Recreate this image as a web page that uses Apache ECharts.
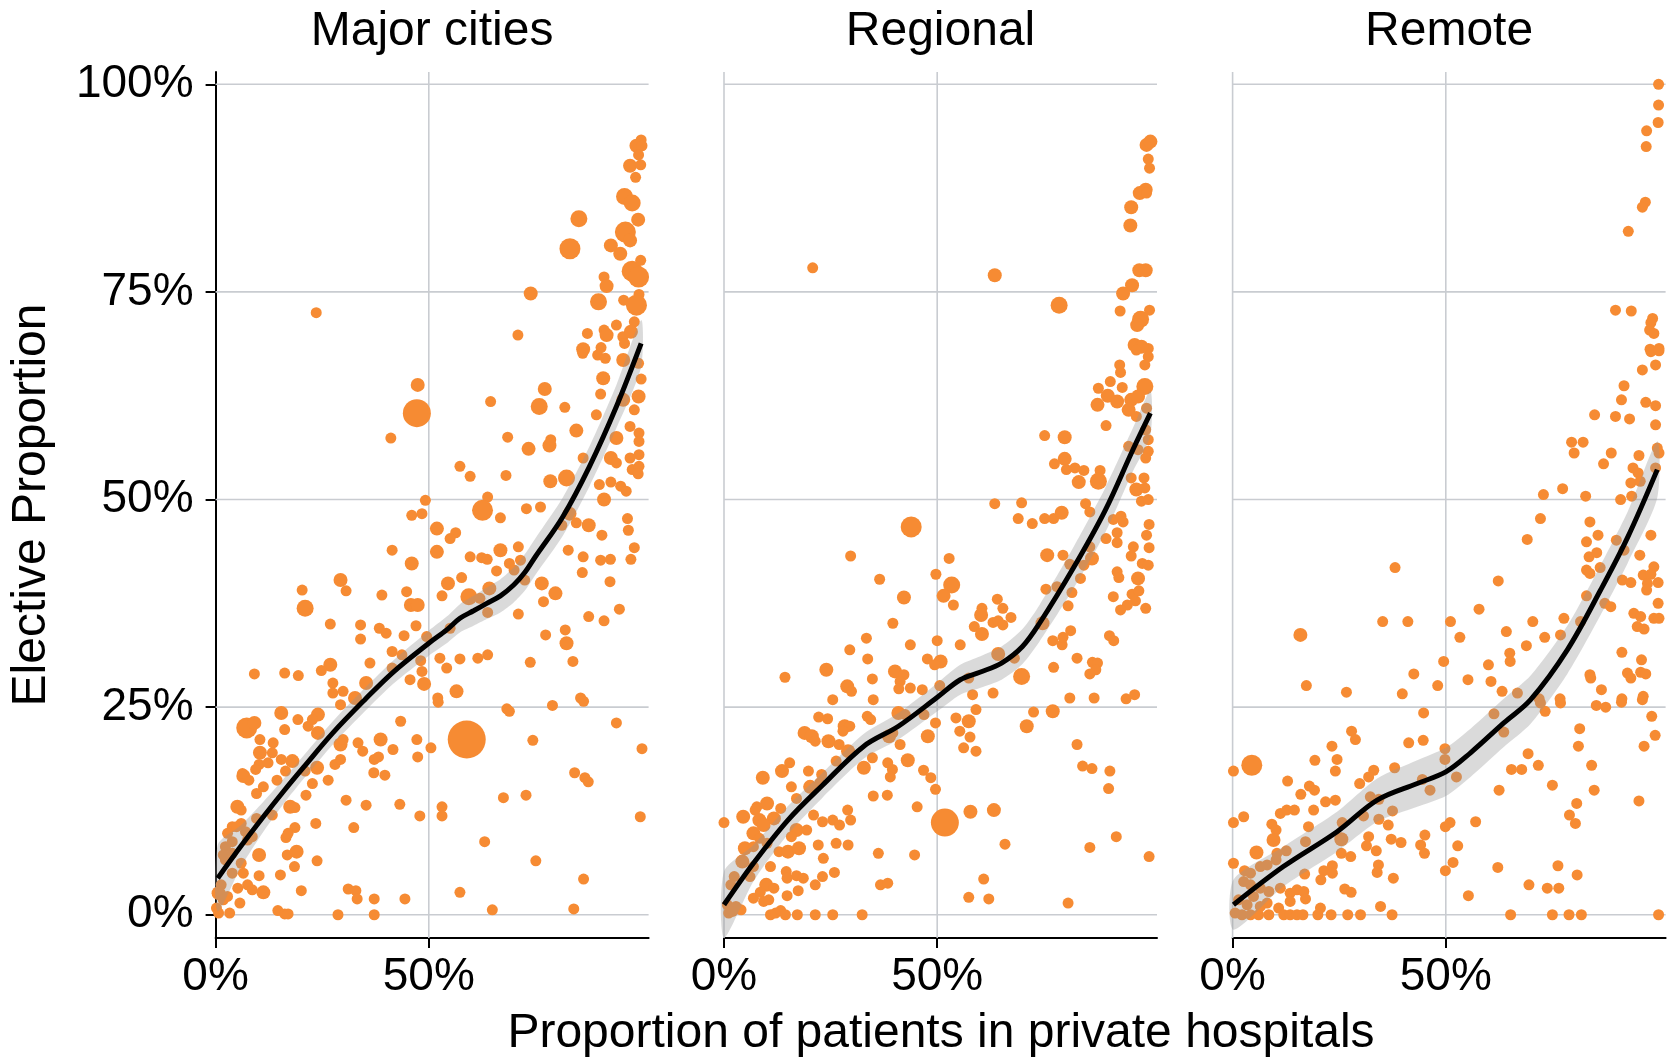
<!DOCTYPE html>
<html>
<head>
<meta charset="utf-8">
<title>Elective proportion vs private hospital share</title>
<script src="https://cdn.jsdelivr.net/npm/echarts@6/dist/echarts.min.js"></script>
<style>
  html, body { margin: 0; padding: 0; background: #fff; }
  #chart { width: 1674px; height: 1059px; }
</style>
</head>
<body>
<div id="chart"></div>
<script>
// Facet titles
const panelNames = ['Major cities', 'Regional', 'Remote'];

// Axis ticks (proportions)
const xTicks = [0, 0.5];
const yTicks = [0, 0.25, 0.5, 0.75, 1];

// Points: [private share, elective proportion, size class]
const majorPts = [
  [.236,.725,1],[.739,.748,2],[.709,.698,1],[.852,.838,3],[.831,.802,4],[.898,.738,3],[.927,.806,2],[.949,.796,2],[.959,.865,3],[.977,.857,3],
  [.961,.822,4],[.972,.812,2],[.991,.837,2],[.972,.902,2],[.997,.903,1],[.985,.888,1],[.998,.933,1],[.987,.926,2],[1.0,.926,1],[.992,.915,1],
  [.977,.775,4],[.992,.768,4],[.997,.788,1],[.911,.768,1],[.917,.757,2],[.993,.747,1],[.957,.740,1],[.987,.734,4],[.982,.714,1],[.872,.700,1],
  [.911,.704,1],[.940,.710,1],[.917,.698,2],[.955,.696,1],[.974,.702,2],[.959,.688,1],[.862,.681,2],[.904,.683,1],
  [.474,.638,2],[.472,.604,5],[.411,.574,1],[.645,.618,1],[.772,.633,2],[.759,.612,3],[.819,.611,1],[.893,.602,1],[.846,.583,2],[.909,.646,2],
  [.903,.627,1],[.861,.676,1],[.896,.674,1],[.914,.670,1],[.956,.668,2],[.992,.664,1],[.998,.645,1],[.992,.624,2],[.956,.620,2],[.982,.608,1],
  [.972,.588,1],[.993,.580,1],[.940,.574,2],[.993,.570,1],[.685,.575,1],[.734,.561,2],[.783,.565,2],[.786,.572,1],[.862,.550,1],[.927,.550,2],
  [.940,.544,1],[.972,.550,1],[.993,.554,1],[.977,.536,1],[.993,.540,1],[.991,.531,1],[.573,.540,1],[.597,.528,1],[.681,.529,1],[.785,.522,2],
  [.823,.526,3],[.900,.518,1],[.927,.521,1],[.950,.516,1],[.963,.510,1],[.492,.499,1],[.460,.481,1],[.484,.483,1],[.638,.503,1],[.626,.487,4],
  [.668,.478,1],[.729,.489,1],[.762,.491,1],[.911,.500,2],[.830,.483,2],[.812,.469,1],[.846,.472,1],[.875,.469,2],[.966,.477,1],[.968,.463,1],
  [.906,.457,1],[.982,.442,1],[.974,.428,1],[.519,.465,2],[.563,.460,1],[.550,.453,1],[.519,.437,2],[.414,.439,1],[.460,.423,2],[.597,.431,1],
  [.624,.430,1],[.637,.428,1],[.668,.439,2],[.710,.443,1],[.827,.439,1],[.862,.431,1],[.903,.427,1],[.926,.428,1],[.659,.414,1],[.689,.423,1],
  [.715,.427,1],[.700,.415,1],[.725,.403,1],[.860,.412,1],[.925,.401,1],[.577,.406,1],[.545,.399,2],[.531,.384,1],[.293,.403,2],[.306,.390,1],
  [.203,.391,1],[.210,.369,3],[.390,.385,1],[.448,.389,1],[.458,.373,2],[.474,.373,2],[.594,.383,3],[.620,.381,1],[.642,.393,2],[.765,.399,2],
  [.797,.387,2],[.769,.377,1],[.710,.362,1],[.638,.364,1],[.875,.359,1],[.911,.354,1],[.947,.368,1],[.269,.350,1],[.340,.349,1],[.384,.345,1],
  [.400,.339,1],[.340,.332,1],[.470,.348,1],[.442,.336,1],[.495,.335,1],[.550,.345,1],[.774,.337,1],[.820,.343,1],[.823,.327,2],[.414,.317,1],
  [.437,.313,1],[.481,.306,1],[.526,.309,1],[.573,.308,1],[.615,.309,1],[.638,.313,1],[.738,.304,1],[.838,.305,1],[.269,.301,2],[.248,.294,1],
  [.362,.303,1],[.091,.290,1],[.162,.291,1],[.194,.288,1],[.414,.297,1],[.484,.293,1],[.542,.297,1],[.275,.279,1],[.353,.279,2],[.456,.283,1],
  [.489,.278,2],[.565,.269,2],[.275,.267,1],[.299,.269,1],[.327,.261,2],[.521,.261,1],[.856,.261,1],
  [.154,.243,2],[.073,.225,4],[.091,.231,2],[.104,.211,1],[.135,.207,1],[.162,.223,1],[.193,.235,1],[.217,.227,1],[.240,.241,2],[.227,.235,1],
  [.240,.219,2],[.293,.253,1],[.293,.205,2],[.299,.211,1],[.334,.207,1],[.345,.197,1],[.387,.211,2],[.416,.199,1],[.434,.233,1],[.472,.211,1],
  [.505,.201,1],[.474,.190,1],[.589,.211,6],[.522,.256,1],[.683,.248,1],[.689,.245,1],[.790,.252,1],[.863,.257,1],[.940,.231,1],[.744,.210,1],
  [1.0,.200,1],[.104,.195,2],[.133,.195,1],[.102,.181,1],[.123,.183,1],[.154,.187,1],[.180,.185,2],[.094,.175,1],[.065,.167,2],[.078,.162,1],
  [.063,.170,1],[.096,.146,1],[.112,.154,1],[.144,.162,1],[.164,.173,1],[.238,.177,2],[.210,.173,1],[.227,.158,1],[.212,.144,1],[.264,.162,1],
  [.280,.181,1],[.293,.187,1],[.371,.171,1],[.397,.168,1],[.372,.187,1],[.382,.190,1],[.051,.130,2],[.060,.126,1],[.175,.130,2],[.186,.129,1],
  [.306,.138,1],[.353,.132,1],[.432,.133,1],[.531,.130,1],[.531,.119,1],[.479,.119,1],[.675,.141,1],[.728,.144,1],[.842,.171,1],[.866,.165,1],
  [.874,.160,1],[.996,.118,1],[.039,.106,1],[.060,.110,1],[.133,.120,1],[.096,.116,1],[.235,.110,1],[.324,.105,1],[.186,.105,1],[.165,.093,1],
  [.170,.098,1],[.023,.082,1],[.039,.088,1],[.075,.090,1],[.018,.072,1],[.102,.072,2],[.168,.072,1],[.190,.076,2],[.185,.058,1],[.238,.065,1],
  [.631,.088,1],[.751,.065,1],[.863,.043,1],[.039,.050,1],[.065,.050,1],[.102,.047,1],[.152,.048,1],[.013,.036,1],[.052,.032,1],[.075,.036,1],
  [.086,.030,1],[.112,.027,2],[.201,.029,1],[.311,.031,1],[.329,.029,1],[.332,.019,1],[.372,.019,1],[.444,.019,1],[.573,.027,1],[.007,.026,2],
  [.018,.018,1],[.028,.022,1],[.057,.014,1],[.002,.008,1],[.033,.002,1],[.007,.002,1],[.146,.005,1],[.162,.001,1],[.170,.001,1],[.287,0,1],
  [.372,0,1],[.649,.006,1],[.840,.007,1],[.028,.098,1],[.049,.106,1],[.070,.100,1],[.086,.094,1],[.039,.074,1],[.023,.066,1],[.060,.062,1]
];

const regionalPts = [
  [.208,.779,1],[.635,.770,2],[.786,.734,3],[.991,.927,2],[1.0,.931,2],[.995,.910,1],[.998,.899,1],[.989,.873,2],[.975,.869,2],[.991,.869,1],
  [.955,.852,2],[.953,.830,2],[.974,.776,2],[.989,.776,2],[.957,.758,2],[.936,.748,2],[.929,.727,1],[.998,.728,1],[.977,.717,3],[.969,.710,2],
  [.963,.686,2],[.995,.682,1],[.979,.684,2],
  [.995,.672,1],[.967,.680,1],[.987,.662,1],[.928,.662,1],[.930,.653,1],[.906,.642,1],[.934,.635,1],[.987,.636,3],[.878,.634,1],[.900,.625,2],
  [.922,.618,2],[.955,.620,2],[.971,.624,2],[.876,.614,2],[.949,.608,2],[.967,.600,1],[.991,.610,1],[.896,.589,1],[.989,.584,1],[.752,.577,1],
  [.799,.575,2],[.949,.564,1],[.995,.572,1],[.971,.560,1],[.995,.558,1],[.989,.550,1],[.799,.549,2],[.775,.543,1],[.803,.536,1],[.823,.538,1],
  [.844,.535,1],[.882,.535,1],[.878,.522,3],[.832,.521,2],[.955,.526,1],[.985,.526,1],[.967,.512,2],[.987,.514,1],[.979,.498,1],[.995,.500,1],
  [.635,.495,1],[.698,.496,1],[.848,.495,1],[.858,.485,1],[.690,.477,1],[.723,.471,1],[.752,.477,1],[.773,.477,1],[.792,.484,2],[.913,.476,1],
  [.931,.480,1],[.936,.473,1],[.997,.470,1],[.991,.457,1],[.439,.467,4],[.896,.453,1],[.922,.460,1],[.922,.448,1],[.297,.432,1],[.528,.429,1],
  [.758,.433,2],[.795,.433,1],[.960,.443,1],[.955,.432,1],[.997,.442,1],[.858,.443,1],[.863,.429,2],[.811,.422,1],[.844,.421,1],[.981,.423,1],
  [.995,.421,1],[.365,.404,1],[.497,.410,1],[.534,.397,3],[.922,.413,1],[.926,.406,1],[.971,.405,2],[.836,.405,1],[.422,.382,2],[.515,.384,2],
  [.538,.373,1],[.755,.392,1],[.781,.395,1],[.816,.388,1],[.913,.383,1],[.957,.386,1],[.973,.390,1],[.965,.378,1],[.946,.373,1],[.930,.367,1],
  [.989,.369,1],[.807,.372,1],[.641,.380,1],[.654,.369,1],[.605,.369,1],[.603,.361,2],[.673,.358,1],[.396,.351,1],[.631,.352,1],[.643,.354,1],
  [.654,.349,1],[.587,.347,1],[.605,.338,2],[.747,.351,2],[.813,.342,1],[.334,.333,1],[.295,.319,1],[.437,.325,1],[.500,.330,1],[.554,.325,1],
  [.771,.330,1],[.793,.325,1],[.795,.334,1],[.904,.336,1],[.914,.330,1],[.337,.308,1],[.477,.308,1],[.508,.305,2],[.494,.301,1],[.643,.314,2],
  [.681,.309,1],[.828,.309,1],[.864,.304,1],[.876,.303,1],[.872,.295,1],[.858,.290,1],[.240,.295,2],[.143,.286,1],[.401,.293,2],[.422,.289,1],
  [.348,.284,1],[.413,.281,1],[.698,.287,3],[.773,.298,1],[.289,.275,2],[.299,.269,1],[.410,.272,1],[.437,.273,1],[.465,.271,1],[.506,.276,1],
  [.574,.285,1],[.583,.265,1],[.631,.267,1],[.963,.265,1],[.811,.261,1],[.868,.261,1],[.943,.260,1],[.255,.259,1],[.350,.259,1],
  [.222,.238,1],[.243,.236,1],[.336,.239,1],[.344,.235,1],[.409,.243,2],[.425,.241,1],[.469,.241,1],[.496,.231,1],[.544,.237,1],[.574,.233,2],
  [.591,.247,1],[.726,.244,1],[.771,.245,2],[.710,.227,2],[.283,.227,2],[.295,.227,1],[.189,.219,2],[.206,.215,2],[.214,.209,1],[.245,.209,2],
  [.279,.221,1],[.270,.205,1],[.387,.215,2],[.396,.219,1],[.413,.205,1],[.478,.215,2],[.553,.221,1],[.577,.214,1],[.562,.201,1],[.591,.197,1],
  [.828,.205,1],[.291,.197,2],[.263,.185,1],[.154,.183,1],[.136,.173,2],[.091,.165,2],[.198,.173,1],[.229,.169,1],[.328,.177,2],[.348,.189,1],
  [.384,.183,1],[.395,.175,1],[.431,.186,2],[.468,.174,1],[.485,.165,1],[.390,.166,1],[.841,.179,1],[.863,.176,1],[.905,.173,1],[.158,.154,1],
  [.202,.154,2],[.496,.151,1],[.902,.152,1],[.170,.140,1],[.225,.159,1],[.077,.130,1],[.101,.134,2],[.073,.126,1],[.133,.128,1],[.045,.118,2],
  [.083,.114,2],[.117,.116,2],[.210,.120,1],[.231,.112,1],[.255,.114,1],[.271,.108,1],[.290,.126,1],[.297,.114,1],[.350,.143,1],[.383,.144,1],
  [.453,.130,1],[.578,.124,2],[.633,.126,2],[.518,.111,5],[0,.111,1],[.069,.098,2],[.093,.108,2],[.170,.102,2],[.194,.102,1],[.158,.094,1],
  [.049,.080,2],[.069,.082,1],[.083,.092,1],[.101,.086,1],[.129,.076,1],[.150,.076,2],[.176,.080,2],[.221,.084,1],[.263,.086,1],[.291,.084,1],
  [.233,.068,1],[.362,.074,1],[.447,.072,1],[.659,.085,1],[.858,.081,1],[.920,.094,1],[.997,.070,1],[.043,.064,2],[.069,.058,1],[.109,.058,1],
  [.146,.052,1],[.148,.044,1],[.170,.047,1],[.186,.044,1],[.231,.046,1],[.259,.051,1],[.024,.046,1],[.016,.036,1],[.061,.046,1],[.099,.036,2],
  [.117,.032,1],[.214,.036,1],[.367,.036,1],[.384,.038,1],[.609,.043,1],[.069,.020,1],[.085,.027,1],[.093,.016,1],[.105,.018,1],[.148,.023,1],
  [.174,.029,1],[.574,.021,1],[.621,.019,1],[.807,.014,1],[.008,.012,1],[.028,.010,1],[.040,.006,1],[.011,.002,1],[.020,.004,1],[.109,0,1],
  [.121,.002,1],[.133,.005,1],[.144,0,1],[.172,0,1],[.214,0,1],[.255,0,1],[.324,0,1]
];

const remotePts = [
  [.999,1.0,1],[.999,.975,1],[.998,.954,1],[.971,.944,1],[.970,.925,1],[.968,.858,1],[.961,.852,1],[.928,.823,1],[.898,.728,1],[.935,.727,1],
  [.985,.718,1],[.981,.713,1],[.978,.704,1],[.988,.700,1],[.979,.681,1],[1.0,.682,1],
  [.981,.678,1],[1.0,.679,1],[.961,.656,1],[.992,.662,1],[.918,.637,1],[.912,.620,1],[.969,.617,1],[.992,.613,1],[.849,.602,1],[.898,.600,1],
  [.931,.597,1],[.992,.590,1],[.795,.569,1],[.822,.569,1],[.801,.556,1],[.996,.562,1],[1.0,.556,1],[.888,.556,1],[.953,.553,1],[.870,.543,1],
  [.939,.538,1],[.951,.532,1],[.992,.538,1],[.729,.506,1],[.774,.513,1],[.828,.504,1],[.910,.500,1],[.936,.504,1],[.934,.520,1],[.956,.522,1],
  [.722,.477,1],[.838,.473,1],[.857,.457,1],[.830,.449,1],[.900,.451,1],[.918,.439,1],[.981,.457,1],[.691,.452,1],[.836,.431,1],[.854,.436,1],
  [.955,.433,1],[.830,.415,1],[.838,.411,1],[.862,.418,1],[.988,.419,1],[.963,.409,1],[.981,.410,1],[.623,.402,1],[.914,.403,1],[.934,.400,1],
  [.998,.400,1],[.973,.399,1],[.971,.391,1],[.830,.384,1],[.381,.418,1],[.578,.368,1],[.873,.375,1],[.887,.371,1],[.998,.375,1],[.352,.353,1],
  [.411,.353,1],[.511,.353,1],[.704,.353,1],[.777,.357,1],[.816,.353,1],[.941,.363,1],[.957,.359,1],[.988,.357,1],[1.0,.357,1],[.159,.337,2],
  [.533,.334,1],[.642,.341,1],[.732,.334,1],[.769,.337,1],[.949,.347,1],[.965,.344,1],[.913,.316,1],[.959,.307,1],[.650,.315,1],[.689,.324,1],
  [.495,.305,1],[.600,.301,1],[.651,.305,1],[.838,.289,1],[.840,.285,1],[.926,.291,1],[.934,.285,1],[.957,.292,1],[.969,.290,1],[.425,.290,1],
  [.552,.283,1],[.606,.281,1],[.481,.276,1],[.173,.276,1],[.267,.268,1],[.398,.266,1],[.632,.269,1],[.668,.267,1],[.865,.271,1],[.913,.260,1],
  [.963,.263,1],[.768,.260,1],[.719,.260,1],
  [.853,.252,1],[.875,.250,1],[.912,.256,1],[.961,.259,1],[.769,.255,1],[.733,.245,1],[.722,.255,1],[.983,.239,1],[.448,.243,1],[.613,.242,1],
  [.814,.224,1],[.991,.216,1],[.636,.220,1],[.279,.221,1],[.288,.211,1],[.413,.207,1],[.447,.210,1],[.811,.203,1],[.965,.203,1],[.233,.203,1],
  [.498,.200,1],[.693,.194,1],[.193,.186,1],[.245,.187,1],[.498,.187,1],[.717,.180,1],[.842,.180,1],[.045,.180,4],[.002,.173,1],[.241,.173,1],
  [.380,.177,1],[.331,.174,1],[.654,.175,1],[.678,.175,1],[.319,.166,1],[.298,.158,1],[.525,.166,1],[.445,.163,1],[.463,.150,1],[.625,.150,1],
  [.750,.156,1],[.848,.150,1],[.953,.137,1],[.129,.161,1],[.180,.155,1],[.192,.150,1],[.160,.145,1],[.218,.136,1],[.241,.138,1],[.323,.142,1],
  [.343,.139,1],[.807,.134,1],[.026,.118,1],[.002,.111,1],[.112,.122,1],[.127,.126,1],[.145,.126,1],[.190,.126,1],[.092,.109,1],[.102,.102,1],
  [.178,.106,1],[.257,.111,1],[.307,.119,1],[.343,.115,1],[.365,.108,1],[.375,.125,1],[.570,.112,1],[.499,.106,1],[.510,.111,1],[.790,.120,1],
  [.804,.110,1],[.171,.088,1],[.255,.091,2],[.319,.094,1],[.372,.091,1],[.395,.087,1],[.451,.096,1],[.441,.084,1],[.450,.074,1],[.528,.083,1],
  [.096,.090,2],[.104,.074,1],[.056,.075,2],[.126,.077,1],[.255,.074,1],[.277,.070,1],[.314,.083,1],[.337,.077,1],[.002,.062,1],[.028,.053,1],
  [.042,.050,1],[.065,.058,1],[.081,.060,1],[.102,.066,1],[.169,.049,1],[.214,.053,1],[.234,.059,1],[.234,.050,1],[.207,.042,1],[.342,.060,1],
  [.339,.051,1],[.377,.044,1],[.499,.053,1],[.517,.063,1],[.622,.057,1],[.763,.059,1],[.808,.048,1],[.695,.036,1],[.738,.032,1],[.765,.032,1],
  [.553,.023,1],[.263,.031,1],[.278,.027,1],[.347,.010,1],[.206,.008,1],[.026,.040,1],[.042,.036,1],[.065,.032,1],[.085,.028,1],[.112,.032,1],
  [.135,.026,1],[.151,.030,1],[.167,.028,1],[.171,.019,1],[.135,.016,1],[.108,.008,1],[.014,.018,1],[.034,.012,1],[.049,.022,1],[.065,.010,1],
  [.081,.014,1],[.006,.002,1],[.022,0,1],[.042,0,1],[.061,0,1],[.085,0,1],[.120,0,1],[.135,0,1],[.151,0,1],[.165,0,1],
  [.200,0,1],[.231,0,1],[.270,0,1],[.300,0,1],[.374,0,1],[.652,0,1],[.750,0,1],[.789,0,1],[.818,0,1],[.999,0,1]
];

// Smoothed fits: [x, fitted value, half-width of confidence band]
const majorFit = [
  [0.005,0.044,0.040],[0.06,0.083,0.025],[0.112,0.118,0.018],[0.16,0.149,0.015],[0.207,0.178,0.014],[0.275,0.219,0.014],
  [0.35,0.259,0.014],[0.416,0.292,0.014],[0.5,0.327,0.015],[0.542,0.343,0.016],[0.573,0.357,0.017],[0.605,0.366,0.018],
  [0.636,0.375,0.019],[0.668,0.384,0.020],[0.699,0.397,0.021],[0.725,0.412,0.022],[0.751,0.432,0.022],[0.814,0.479,0.023],
  [0.877,0.540,0.024],[0.94,0.612,0.026],[0.998,0.688,0.028]
];
const regionalFit = [
  [0.0,0.012,0.040],[0.069,0.062,0.022],[0.150,0.114,0.017],[0.231,0.156,0.015],[0.328,0.203,0.015],[0.409,0.227,0.016],
  [0.498,0.261,0.017],[0.554,0.283,0.018],[0.60,0.292,0.019],[0.651,0.303,0.020],[0.70,0.323,0.021],[0.740,0.351,0.022],
  [0.821,0.419,0.025],[0.894,0.487,0.027],[0.959,0.560,0.026],[1.0,0.604,0.027]
];
const remoteFit = [
  [0.002,0.012,0.030],[0.119,0.058,0.024],[0.245,0.100,0.024],[0.339,0.138,0.026],[0.433,0.158,0.028],[0.5,0.172,0.029],
  [0.558,0.195,0.029],[0.636,0.231,0.029],[0.699,0.259,0.029],[0.785,0.319,0.029],[0.863,0.391,0.030],[0.927,0.455,0.031],
  [0.996,0.536,0.034]
];

const panelPts = [majorPts, regionalPts, remotePts];
const panelFits = [majorFit, regionalFit, remoteFit];

const FONT = '"Liberation Sans", Arial, Helvetica, sans-serif';
const ORANGE = '#f68b33';
const GRID_GREY = '#c9ccd1';
const SIZES = [0, 11, 14, 17, 21, 28, 38];

const X_MAX = 1.0155, Y_MIN = -0.028, Y_MAX = 1.0148;
const PANEL_LEFT = [215.6, 724, 1232.6];
const PANEL_W = 433, PANEL_TOP = 72, PANEL_H = 866;

const pct = v => Math.round(v * 100) + '%';

const chart = echarts.init(document.getElementById('chart'), null, { renderer: 'canvas' });

const grids = [], xAxes = [], yAxes = [], series = [], graphics = [];

panelNames.forEach((name, i) => {
  grids.push({ left: PANEL_LEFT[i], top: PANEL_TOP, width: PANEL_W, height: PANEL_H,
               containLabel: false, outerBoundsMode: 'none' });
  xAxes.push({
    gridIndex: i, type: 'value', min: 0, max: X_MAX,
    axisLine: { show: true, onZero: false, lineStyle: { color: '#000', width: 2 } },
    axisTick: { show: true, customValues: xTicks, length: 10, lineStyle: { color: '#000', width: 2 } },
    axisLabel: { customValues: xTicks, formatter: pct, color: '#000', fontSize: 46, fontFamily: FONT, margin: 16 },
    splitLine: { show: false }
  });
  const showY = i === 0;
  yAxes.push({
    gridIndex: i, type: 'value', min: Y_MIN, max: Y_MAX,
    axisLine: { show: showY, onZero: false, lineStyle: { color: '#000', width: 2 } },
    axisTick: { show: showY, customValues: yTicks, length: 10, lineStyle: { color: '#000', width: 2 } },
    axisLabel: { show: showY, customValues: yTicks, formatter: pct, color: '#000', fontSize: 46, fontFamily: FONT, margin: 22 },
    splitLine: { show: false }
  });

  // grid lines, drawn through the axis scales
  const gridData = [];
  xTicks.forEach(v => { if (!(showY && v === 0)) gridData.push([v, 0]); });
  yTicks.forEach(v => gridData.push([v, 1]));
  series.push({
    type: 'custom', xAxisIndex: i, yAxisIndex: i, z: 1, silent: true,
    data: gridData,
    renderItem: (params, api) => {
      const v = api.value(0), vertical = api.value(1) === 0;
      const cs = params.coordSys;
      if (vertical) {
        const p = api.coord([v, 0]);
        return { type: 'line', shape: { x1: p[0], y1: cs.y, x2: p[0], y2: cs.y + cs.height },
                 style: { stroke: GRID_GREY, lineWidth: 1.6 } };
      }
      const p = api.coord([0, v]);
      return { type: 'line', shape: { x1: cs.x, y1: p[1], x2: cs.x + cs.width, y2: p[1] },
               style: { stroke: GRID_GREY, lineWidth: 1.6 } };
    }
  });

  // points
  series.push({
    type: 'scatter', xAxisIndex: i, yAxisIndex: i, z: 2,
    data: panelPts[i],
    symbolSize: d => SIZES[d[2]],
    itemStyle: { color: ORANGE, opacity: 1 },
    emphasis: { disabled: true }
  });

  // confidence band
  const fit = panelFits[i];
  series.push({
    type: 'custom', xAxisIndex: i, yAxisIndex: i, z: 3, silent: true,
    data: [[fit[0][0], fit[0][1]]],
    renderItem: (params, api) => {
      const upper = fit.map(f => api.coord([f[0], f[1] + f[2]]));
      const lower = fit.map(f => api.coord([f[0], f[1] - f[2]])).reverse();
      return { type: 'polygon', shape: { points: upper.concat(lower), smooth: 0.25 },
               style: { fill: 'rgba(150,150,150,0.35)' } };
    }
  });

  // fitted curve
  series.push({
    type: 'line', xAxisIndex: i, yAxisIndex: i, z: 4, silent: true,
    data: fit.map(f => [f[0], f[1]]),
    smooth: 0.35, showSymbol: false, symbol: 'none',
    lineStyle: { color: '#000', width: 5 }
  });

  graphics.push({
    type: 'text', x: PANEL_LEFT[i] + PANEL_W / 2, y: 31.5,
    style: { text: name, fontSize: 48, fontFamily: FONT, fill: '#000', align: 'center', verticalAlign: 'middle' }
  });
});

graphics.push({
  type: 'text', x: 32, y: 505, rotation: Math.PI / 2,
  style: { text: 'Elective Proportion', fontSize: 48, fontFamily: FONT, fill: '#000', align: 'center', verticalAlign: 'middle' }
});
graphics.push({
  type: 'text', x: 941, y: 1034,
  style: { text: 'Proportion of patients in private hospitals', fontSize: 48, fontFamily: FONT, fill: '#000', align: 'center', verticalAlign: 'middle' }
});

chart.setOption({
  animation: false,
  backgroundColor: '#fff',
  grid: grids,
  xAxis: xAxes,
  yAxis: yAxes,
  series: series,
  graphic: graphics
});
</script>
</body>
</html>
